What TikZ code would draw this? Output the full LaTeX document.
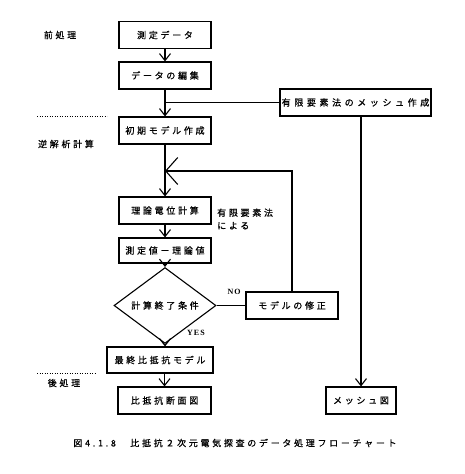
\documentclass[tikz,border=0pt]{standalone}
\usepackage{fontspec}
\usetikzlibrary{shapes.geometric,arrows.meta}
\newfontfamily\jp[LetterSpace=30,FakeBold=0.6]{Noto Sans CJK JP}
\newfontfamily\jpwide[LetterSpace=40,FakeBold=0.6]{Noto Sans CJK JP}
\newfontfamily\lat{Liberation Serif}
\newcommand{\jpf}{\jp\fontsize{9}{13}\selectfont}
\newcommand{\jpwf}{\jpwide\fontsize{9}{13}\selectfont}
\begin{document}
\begin{tikzpicture}[x=1pt,y=-1pt,
  box/.style={draw,line width=1.1pt,inner sep=0pt,font=\jpf,minimum width=92pt,minimum height=27pt},
  dec/.style={draw,line width=1.1pt,shape=diamond,inner sep=0pt,font=\jpf,minimum width=102pt,minimum height=53pt},
  lbl/.style={font=\jpf,inner sep=0pt},
  ln/.style={line width=1.1pt},
  arr/.style={line width=1.1pt,-{Straight Barb[length=7pt,width=11pt,line width=1.1pt]}},
  bigarr/.style={line width=1.1pt,-{Straight Barb[length=12pt,width=27pt,line width=1.1pt]}},
  dots/.style={line width=0.7pt,dash pattern=on 1.1pt off 1.4pt}]
\useasboundingbox (0,0) rectangle (465,474);
% nodes
\node[box] (m1) at (165,35) {測定データ};
\node[box] (m2) at (165,75.5) {データの編集};
\node[box] (m3) at (165,130.5) {初期モデル作成};
\node[box,minimum width=151pt,font=\jpwf] (mesh) at (355.5,102.5) {有限要素法のメッシュ作成};
\node[box] (m4) at (165,210.5) {理論電位計算};
\node[box,minimum height=25pt] (m5) at (165,250.5) {測定値－理論値};
\node[dec] (dia) at (165,305.5) {計算終了条件};
\node[box] (mod) at (292,305.5) {モデルの修正};
\node[box,minimum width=106pt,minimum height=26pt] (m6) at (160,360) {最終比抵抗モデル};
\node[box,minimum width=93pt] (m7) at (164.5,400.5) {比抵抗断面図};
\node[box,minimum width=70pt] (mz) at (361,400.5) {メッシュ図};
% side labels
\node[lbl] (l1) at (60,35) {前処理};
\node[lbl] (l2) at (66,144) {逆解析計算};
\node[lbl] (l3) at (64,383) {後処理};
\node[lbl,align=left,anchor=west] (note) at (217,219) {有限要素法\\による};
\node[font=\lat\bfseries\fontsize{8}{10}\selectfont,inner sep=0pt] (no) at (234,292) {N\kern1ptO};
\node[font=\lat\bfseries\fontsize{8}{10}\selectfont,inner sep=0pt] (yes) at (196,333) {Y\kern1ptE\kern1ptS};
\node[lbl] (cap) at (235,443) {図4.1.8　比抵抗２次元電気探査のデータ処理フローチャート};
% dotted separators
\coordinate (d1a) at (37,116); \coordinate (d1b) at (107,116);
\coordinate (d2a) at (37,373); \coordinate (d2b) at (96,373);
\draw[dots] (d1a) -- (d1b);
\draw[dots] (d2a) -- (d2b);
% connectors
\coordinate (j) at (m2.south |- mesh.west);
\coordinate (lp) at (165,171);
\draw[arr] (m1) -- (m2);
\draw[arr] (m2) -- (m3);
\draw[ln] (j) -- (mesh.west);
\draw[arr] (m3) -- (m4);
\draw[bigarr] (mod.north) |- (lp);
\draw[arr] (m4) -- (m5);
\draw[arr] (m5) -- (dia);
\draw[ln] (dia.east) -- (mod.west);
\draw[arr] (dia.south) -- (dia.south |- m6.north);
\draw[arr] (m6.south -| m7.north) -- (m7.north);
\draw[arr] (mz.north |- mesh.south) -- (mz.north);
\end{tikzpicture}
\end{document}
